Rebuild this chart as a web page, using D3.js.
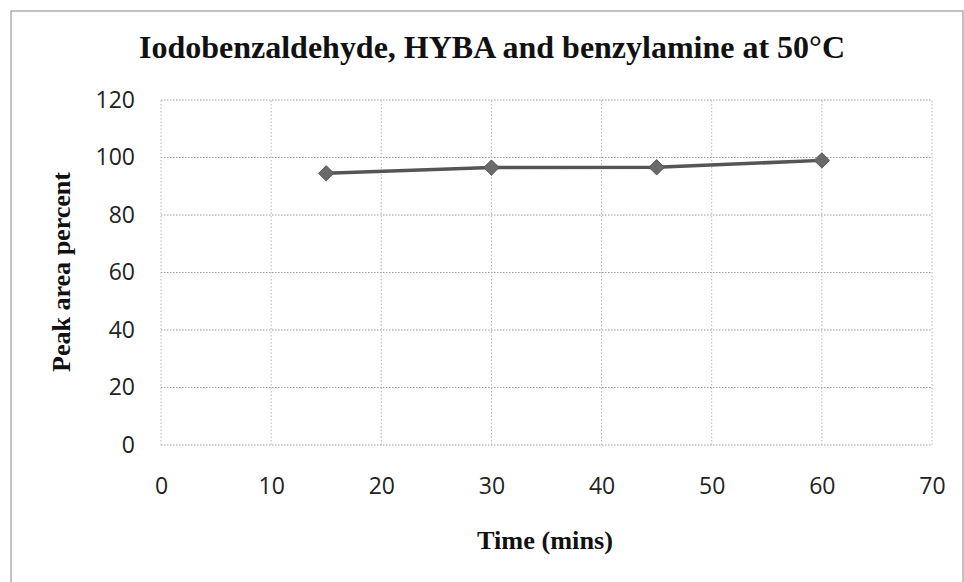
<!DOCTYPE html>
<html><head><meta charset="utf-8">
<script src="https://cdn.jsdelivr.net/npm/d3@7"></script>
<style>body{margin:0;background:#fff}</style>
</head><body>
<svg id="c" width="964" height="582"></svg>
<script>
const times = [15, 30, 45, 60];
const peakArea = [94.5, 96.5, 96.6, 99];
const xTicks = [0, 10, 20, 30, 40, 50, 60, 70];
const yTicks = [0, 20, 40, 60, 80, 100, 120];
const title = "Iodobenzaldehyde, HYBA and benzylamine at 50°C";
const xTitle = "Time (mins)";
const yTitle = "Peak area percent";

const svg = d3.select("#c");
const W = 964, H = 582;
const m = {left: 161, right: 32, top: 100, bottom: 137};
const x = d3.scaleLinear().domain([0, 70]).range([m.left, W - m.right]);
const y = d3.scaleLinear().domain([0, 120]).range([H - m.bottom, m.top]);

svg.append("rect").attr("x", 11).attr("y", 11).attr("width", W - 12).attr("height", H)
  .attr("fill", "#fff").attr("stroke", "#9a9a9a").attr("stroke-width", 1.2);

// grid
const g = svg.append("g");
g.selectAll("line.h").data(yTicks).join("line")
  .attr("x1", x(0)).attr("x2", x(70)).attr("y1", d => y(d)).attr("y2", d => y(d))
  .attr("stroke", "#9c9c9c").attr("stroke-width", 1).attr("stroke-dasharray", "1.5,1.5");
g.selectAll("line.v").data(xTicks).join("line")
  .attr("y1", y(0)).attr("y2", y(120)).attr("x1", d => x(d)).attr("x2", d => x(d))
  .attr("stroke", "#b8b8b8").attr("stroke-width", 1).attr("stroke-dasharray", "1.5,2");

// axes labels
const yAxis = d3.axisLeft(y).tickValues(yTicks).tickSize(0).tickPadding(26);
const ya = svg.append("g").attr("transform", `translate(${x(0)},0)`).call(yAxis);
ya.select(".domain").remove();
ya.selectAll("text").attr("font-family", "Open Sans, sans-serif").attr("font-size", 23).attr("fill", "#222");

const xAxis = d3.axisBottom(x).tickValues(xTicks).tickSize(0).tickPadding(33);
const xa = svg.append("g").attr("transform", `translate(0,${y(0)})`).call(xAxis);
xa.select(".domain").remove();
xa.selectAll("text").attr("font-family", "Open Sans, sans-serif").attr("font-size", 23).attr("fill", "#222");

// line
const pts = times.map((t, i) => [t, peakArea[i]]);
svg.append("path").datum(pts)
  .attr("d", d3.line().x(d => x(d[0])).y(d => y(d[1])))
  .attr("fill", "none").attr("stroke", "#555").attr("stroke-width", 3.5);
svg.selectAll("path.mk").data(pts).join("path")
  .attr("transform", d => `translate(${x(d[0])},${y(d[1])})`)
  .attr("d", d3.symbol(d3.symbolDiamond2, 150))
  .attr("fill", "#6a6a6a").attr("stroke", "#555").attr("stroke-width", 1);

// titles
svg.append("text").attr("x", 492).attr("y", 58).attr("text-anchor", "middle")
  .attr("font-family", "Liberation Serif, serif").attr("font-weight", "bold").attr("font-size", 32)
  .attr("textLength", 706).attr("lengthAdjust", "spacingAndGlyphs")
  .attr("fill", "#111").text(title);
svg.append("text").attr("x", 545).attr("y", 549).attr("text-anchor", "middle")
  .attr("font-family", "Liberation Serif, serif").attr("font-weight", "bold").attr("font-size", 25)
  .attr("textLength", 136).attr("lengthAdjust", "spacingAndGlyphs")
  .attr("fill", "#111").text(xTitle);
svg.append("text").attr("transform", "translate(70,272) rotate(-90)").attr("text-anchor", "middle")
  .attr("font-family", "Liberation Serif, serif").attr("font-weight", "bold").attr("font-size", 25)
  .attr("textLength", 200).attr("lengthAdjust", "spacingAndGlyphs")
  .attr("fill", "#111").text(yTitle);
</script>
</body></html>
